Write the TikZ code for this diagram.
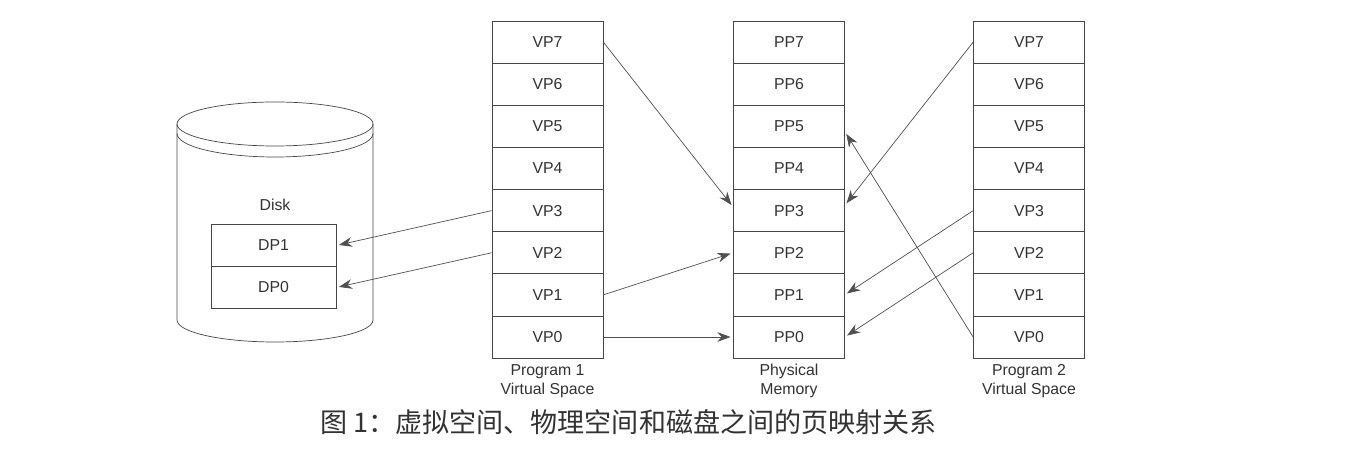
\documentclass[tikz,border=0pt]{standalone}
\usepackage{fontspec}
\setmainfont{Liberation Sans}
\newfontfamily\cjkfont{Noto Sans CJK SC}
\definecolor{linegray}{RGB}{70, 70, 70}
\definecolor{arrowgray}{RGB}{80, 80, 80}
\definecolor{textgray}{RGB}{50, 50, 50}
\usetikzlibrary{arrows.meta, positioning}

\tikzset{
  page/.style={draw=linegray, minimum width=2.22cm, minimum height=0.8425cm, inner sep=0pt, font=\fontsize{9}{11}\selectfont, text=textgray},
  diskpage/.style={draw=linegray, minimum width=2.5cm, minimum height=0.84cm, inner sep=0pt, font=\fontsize{9}{11}\selectfont, text=textgray},
  caption/.style={align=center, font=\fontsize{9}{10.5}\selectfont, text=textgray},
  map/.style={-{Stealth[length=7.5pt, width=5.5pt]}, arrowgray, thin, shorten >=1.5pt}
}

\begin{document}
\begin{tikzpicture}
  \useasboundingbox (0,0) rectangle (27.44,9.12);

  % Disk
  \draw[linegray] (3.54,6.64) -- (3.54,2.72) arc[start angle=180, end angle=360, x radius=1.96, y radius=0.44] -- (7.46,6.64);
  \draw[linegray] (5.5,6.64) ellipse[x radius=1.96, y radius=0.44];
  \draw[linegray] (3.54,6.45) arc[start angle=180, end angle=360, x radius=1.96, y radius=0.47];
  \node[font=\fontsize{9}{11}\selectfont, text=textgray] (disk) at (5.5, 5.02) {Disk};
  \node[diskpage] (dp1) at (5.47, 4.21) {DP1};
  \node[diskpage] (dp0) at (5.47, 3.37) {DP0};

  % Program 1
  \node[page] (p1vp7) at (10.95, 8.2775) {VP7};
  \node[page] (p1vp6) at (10.95, 7.435) {VP6};
  \node[page] (p1vp5) at (10.95, 6.5925) {VP5};
  \node[page] (p1vp4) at (10.95, 5.75) {VP4};
  \node[page] (p1vp3) at (10.95, 4.9075) {VP3};
  \node[page] (p1vp2) at (10.95, 4.065) {VP2};
  \node[page] (p1vp1) at (10.95, 3.2225) {VP1};
  \node[page] (p1vp0) at (10.95, 2.38) {VP0};
  \node[caption] (p1label) at (10.95, 1.5) {Program 1\\Virtual Space};

  % Physical Memory
  \node[page] (pp7) at (15.78, 8.2775) {PP7};
  \node[page] (pp6) at (15.78, 7.435) {PP6};
  \node[page] (pp5) at (15.78, 6.5925) {PP5};
  \node[page] (pp4) at (15.78, 5.75) {PP4};
  \node[page] (pp3) at (15.78, 4.9075) {PP3};
  \node[page] (pp2) at (15.78, 4.065) {PP2};
  \node[page] (pp1) at (15.78, 3.2225) {PP1};
  \node[page] (pp0) at (15.78, 2.38) {PP0};
  \node[caption] (pmlabel) at (15.78, 1.5) {Physical\\Memory};

  % Program 2
  \node[page] (p2vp7) at (20.58, 8.2775) {VP7};
  \node[page] (p2vp6) at (20.58, 7.435) {VP6};
  \node[page] (p2vp5) at (20.58, 6.5925) {VP5};
  \node[page] (p2vp4) at (20.58, 5.75) {VP4};
  \node[page] (p2vp3) at (20.58, 4.9075) {VP3};
  \node[page] (p2vp2) at (20.58, 4.065) {VP2};
  \node[page] (p2vp1) at (20.58, 3.2225) {VP1};
  \node[page] (p2vp0) at (20.58, 2.38) {VP0};
  \node[caption] (p2label) at (20.58, 1.5) {Program 2\\Virtual Space};

  % Mappings
  \draw[map] (p1vp3.west) -- (dp1.east);
  \draw[map] (p1vp2.west) -- (dp0.east);
  \draw[map] (p1vp7.east) -- ([yshift=2pt]pp3.west);
  \draw[map] (p1vp1.east) -- (pp2.west);
  \draw[map] (p1vp0.east) -- (pp0.west);
  \draw[map] (p2vp7.west) -- ([yshift=3pt]pp3.east);
  \draw[map] (p2vp3.west) -- (pp1.east);
  \draw[map] (p2vp2.west) -- (pp0.east);
  \draw[map] (p2vp0.west) -- ([yshift=-3pt]pp5.east);

  % Caption
  \node[font=\cjkfont\fontsize{15.4}{18}\selectfont, text=textgray] (title) at (12.57, 0.68) {图 1：虚拟空间、物理空间和磁盘之间的页映射关系};
\end{tikzpicture}
\end{document}
